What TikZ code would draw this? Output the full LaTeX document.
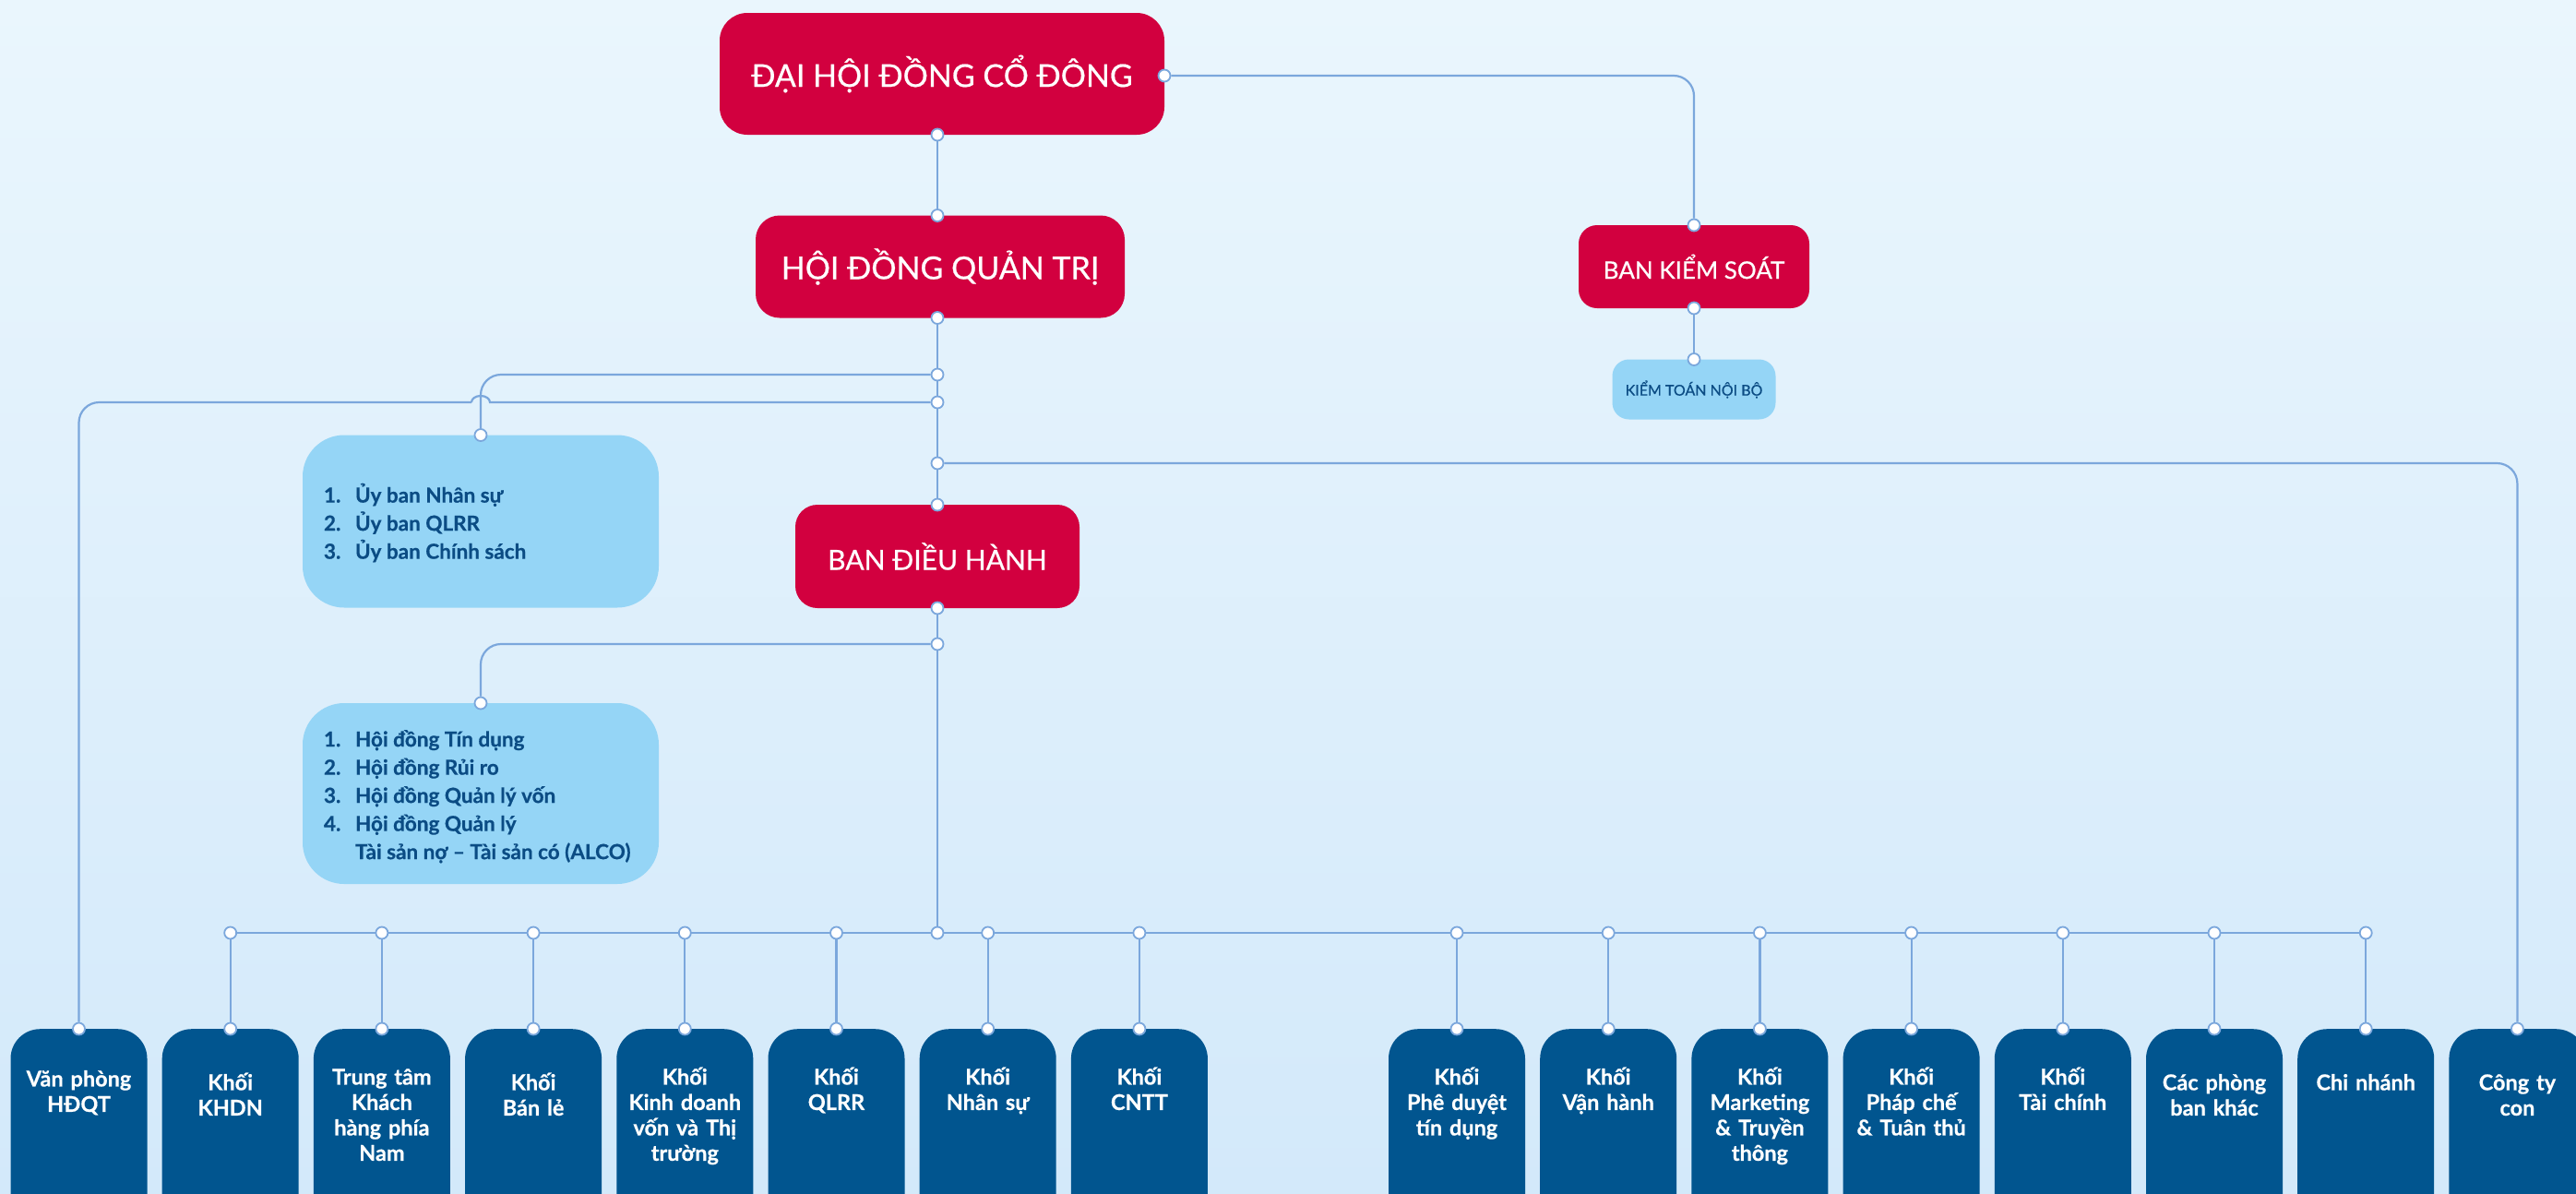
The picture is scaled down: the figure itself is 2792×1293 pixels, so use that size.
\documentclass[tikz,border=0pt]{standalone}
\usepackage{fontspec}
\setmainfont{Lato}[BoldFeatures={FakeBold=0.5}]
\newfontfamily\semib[FakeBold=0.6]{Lato}
\usetikzlibrary{calc}
\definecolor{cBgTop}{HTML}{EAF6FD}
\definecolor{cBgBot}{HTML}{D3E9FA}
\definecolor{cRed}{HTML}{D2003F}
\definecolor{cNavy}{HTML}{01558F}
\definecolor{cLight}{HTML}{95D5F6}
\definecolor{cText}{HTML}{0B4C84}
\definecolor{cLine}{HTML}{7BA7DC}
\pgfdeclarelayer{bglayer}
\pgfdeclarelayer{linelayer}
\pgfsetlayers{bglayer,linelayer,main}
\tikzset{
  conn/.style={draw=cLine, line width=2.2pt},
  dot/.style={circle, draw=cLine, fill=white, line width=1.8pt, inner sep=0pt, minimum size=13pt},
  redbox/.style={rectangle, fill=cRed, text=white, inner sep=0pt},
  lightbox/.style={rectangle, fill=cLight, inner sep=0pt},
  navybox/.style={rectangle, fill=cNavy, rounded corners=32pt, minimum width=148pt, minimum height=240pt, anchor=north, inner sep=0pt},
  navylabel/.style={anchor=north, text=white, align=center, text width=148pt, inner sep=0pt, font=\bfseries\fontsize{23.5}{27.5}\selectfont, execute at begin node=\strut},
  listtext/.style={anchor=west, text=cText, inner sep=0pt, font=\bfseries\fontsize{22.5}{30.5}\selectfont},
}
\begin{document}
\begin{tikzpicture}[x=1pt,y=-1pt]
\useasboundingbox (0,0) rectangle (2792,1293);
\begin{pgfonlayer}{bglayer}
\shade[top color=cBgTop, bottom color=cBgBot] (0,0) rectangle (2792,1293);
\end{pgfonlayer}

% main boxes
\node[redbox, rounded corners=30pt, minimum width=482pt, minimum height=132pt, font=\semib\fontsize{34}{40}\selectfont] (dhd) at (1021,80) {ĐẠI HỘI ĐỒNG CỔ ĐÔNG};
\node[redbox, rounded corners=26pt, minimum width=400pt, minimum height=111pt, font=\semib\fontsize{34}{40}\selectfont] (hdqt) at (1019,289) {HỘI ĐỒNG QUẢN TRỊ};
\node[redbox, rounded corners=24pt, minimum width=308pt, minimum height=112pt, font=\semib\fontsize{30}{36}\selectfont] (bdh) at (1016,603) {BAN ĐIỀU HÀNH};
\node[redbox, rounded corners=20pt, minimum width=250pt, minimum height=90pt, font=\semib\fontsize{26}{30}\selectfont] (bks) at (1836,289) {BAN KIỂM SOÁT};
\node[lightbox, rounded corners=18pt, minimum width=177pt, minimum height=65pt, text=cText, font=\semib\fontsize{16}{20}\selectfont] (ktnb) at (1836,422) {KIỂM TOÁN NỘI BỘ};

\node[lightbox, rounded corners=45pt, minimum width=386pt, minimum height=187pt] (ub) at (521,565) {};
\node[listtext] (ubt) at ([xshift=23pt,yshift=-4pt]ub.west) {\begin{tabular}{@{}p{34pt}@{}l@{}}1.&Ủy ban Nhân sự\\2.&Ủy ban QLRR\\3.&Ủy ban Chính sách\end{tabular}};
\node[lightbox, rounded corners=45pt, minimum width=386pt, minimum height=196pt] (hd) at (521,860) {};
\node[listtext] (hdt) at ([xshift=23pt,yshift=-4pt]hd.west) {\begin{tabular}{@{}p{34pt}@{}l@{}}1.&Hội đồng Tín dụng\\2.&Hội đồng Rủi ro\\3.&Hội đồng Quản lý vốn\\4.&Hội đồng Quản lý\\&Tài sản nợ – Tài sản có (ALCO)\end{tabular}};

% bottom boxes
\foreach \i/\x in {1/85.5,2/249.7,3/413.9,4/578.1,5/742.3,6/906.5,7/1070.7,8/1234.9,9/1579,10/1743.2,11/1907.4,12/2071.6,13/2235.8,14/2400,15/2564.2,16/2728.4}{
  \node[navybox] (v\i) at (\x,1115) {};
  \node[dot] (t\i) at (v\i.north) {};
}
\node[navylabel] (l1) at ([yshift=-43pt]v1.north) {Văn phòng\\HĐQT};
\node[navylabel] (l2) at ([yshift=-47pt]v2.north) {Khối\\KHDN};
\node[navylabel] (l3) at ([yshift=-41pt]v3.north) {Trung tâm\\Khách\\hàng phía\\Nam};
\node[navylabel] (l4) at ([yshift=-47pt]v4.north) {Khối\\Bán lẻ};
\node[navylabel] (l5) at ([yshift=-41pt]v5.north) {Khối\\Kinh doanh\\vốn và Thị\\trường};
\node[navylabel] (l6) at ([yshift=-41pt]v6.north) {Khối\\QLRR};
\node[navylabel] (l7) at ([yshift=-41pt]v7.north) {Khối\\Nhân sự};
\node[navylabel] (l8) at ([yshift=-41pt]v8.north) {Khối\\CNTT};
\node[navylabel] (l9) at ([yshift=-41pt]v9.north) {Khối\\Phê duyệt\\tín dụng};
\node[navylabel] (l10) at ([yshift=-41pt]v10.north) {Khối\\Vận hành};
\node[navylabel] (l11) at ([yshift=-41pt]v11.north) {Khối\\Marketing\\\& Truyền\\thông};
\node[navylabel] (l12) at ([yshift=-41pt]v12.north) {Khối\\Pháp chế\\\& Tuân thủ};
\node[navylabel] (l13) at ([yshift=-41pt]v13.north) {Khối\\Tài chính};
\node[navylabel] (l14) at ([yshift=-47pt]v14.north) {Các phòng\\ban khác};
\node[navylabel] (l15) at ([yshift=-47pt]v15.north) {Chi nhánh};
\node[navylabel] (l16) at ([yshift=-47pt]v16.north) {Công ty\\con};

% dots
\node[dot] (d1) at (1016,146) {};
\node[dot] (d2) at (1016,233.5) {};
\node[dot] (d3) at (1262,82) {};
\node[dot] (d4) at (1836,244) {};
\node[dot] (d5) at (1836,334) {};
\node[dot] (d6) at (1836,389.5) {};
\node[dot] (d7) at (1016,344.5) {};
\node[dot] (d8) at (1016,406) {};
\node[dot] (d9) at (1016,436) {};
\node[dot] (d10) at (1016,502) {};
\node[dot] (d11) at (1016,547) {};
\node[dot] (d12) at (521,471.5) {};
\node[dot] (d13) at (1016,659) {};
\node[dot] (d14) at (1016,698) {};
\node[dot] (d15) at (521,762) {};
\node[dot] (bc) at (1016,1011) {};
\foreach \i/\x in {2/249.7,3/413.9,4/578.1,5/742.3,6/906.5,7/1070.7,8/1234.9,9/1579,10/1743.2,11/1907.4,12/2071.6,13/2235.8,14/2400,15/2564.2}{
  \node[dot] (b\i) at (\x,1011) {};
}
\coordinate (hopR) at (531,436);
\coordinate (hopL) at (511,436);

% connectors
\begin{pgfonlayer}{linelayer}
\draw[conn] (d1) -- (d2);
\draw[conn] (d7) -- (d11);
\draw[conn] (d13) -- (bc);
\draw[conn, rounded corners=22pt] (d3) -| (d4);
\draw[conn] (d5) -- (d6);
\draw[conn, rounded corners=22pt] (d8) -| (d12);
\draw[conn, rounded corners=22pt] (d14) -| (d15);
\draw[conn, rounded corners=22pt] (d10) -| (t16);
\draw[conn] (d9) -- (hopR) arc[start angle=0, end angle=180, x radius=10pt, y radius=7pt];
\draw[conn, rounded corners=22pt] (hopL) -| (t1);
\draw[conn] (b2) -- (b15);
\foreach \i in {2,...,15}{
  \draw[conn] (b\i) -- (t\i);
}
\end{pgfonlayer}
\end{tikzpicture}
\end{document}
